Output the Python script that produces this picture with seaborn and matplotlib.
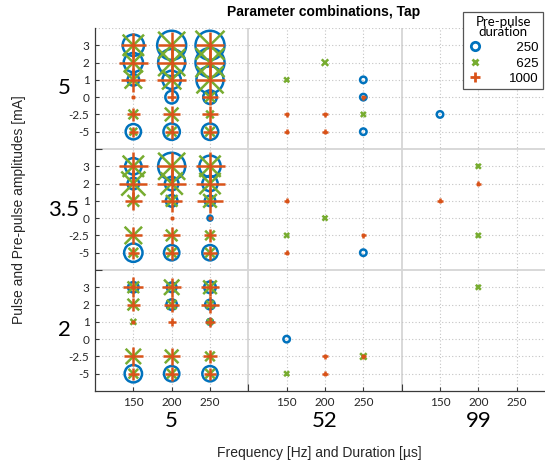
import numpy as np
import pandas as pd
import matplotlib
matplotlib.use("Agg")
import matplotlib.pyplot as plt
import matplotlib.transforms as mtransforms
from matplotlib.lines import Line2D
import seaborn as sns

# ---------------- data ----------------
DURATIONS = [5, 52, 99]              # pulse duration [µs]
FREQS = [150, 200, 250]              # frequency [Hz]
PULSES = [5, 3.5, 2]                 # pulse amplitude [mA]
PREPULSES = [3, 2, 1, 0, -2.5, -5]   # pre-pulse amplitude [mA]
PP_DURATIONS = [250, 625, 1000]      # pre-pulse duration

# counts at 5 µs duration; rows = pre-pulse (3..-5), cols = 150/200/250 Hz
n250_p5 = [[54, 100, 114], [44, 87, 100], [16, 40, 87], [0, 19, 22], [0, 0, 0], [28, 32, 32]]
n250_p35 = [[32, 87, 54], [16, 22, 28], [0, 16, 13], [0, 0, 3], [0, 0, 0], [40, 28, 28]]
n250_p2 = [[13, 11, 16], [0, 13, 11], [0, 0, 4], [0, 0, 0], [0, 0, 0], [36, 28, 28]]

n625_p5 = [[54, 87, 100], [44, 87, 100], [36, 44, 87], [0, 0, 12], [11, 22, 7], [7, 11, 11]]
n625_p35 = [[54, 87, 54], [69, 59, 54], [16, 16, 22], [0, 0, 0], [36, 16, 11], [11, 11, 11]]
n625_p2 = [[16, 28, 22], [16, 11, 7], [4, 0, 4], [0, 0, 0], [28, 22, 11], [11, 11, 11]]

n1000_p5 = [[75, 87, 87], [100, 107, 87], [69, 100, 100], [2, 9, 30], [22, 36, 32], [11, 22, 22]]
n1000_p35 = [[114, 114, 100], [93, 100, 100], [36, 54, 75], [0, 2, 2], [36, 32, 19], [16, 22, 22]]
n1000_p2 = [[49, 44, 36], [22, 28, 36], [2, 7, 11], [0, 0, 0], [40, 36, 22], [16, 22, 16]]

# sparse combinations at 52 and 99 µs
sp_dur = [52, 52, 52, 52, 52, 52, 52, 52, 52, 52, 52, 99,
          52, 52, 52, 52, 52, 52, 99, 99, 99, 99,
          52, 52, 52, 52, 52, 52, 99]
sp_freq = [150, 150, 150, 200, 200, 200, 250, 250, 250, 250, 250, 150,
           150, 150, 150, 200, 250, 250, 150, 200, 200, 200,
           150, 150, 200, 200, 250, 250, 200]
sp_pulse = [5] * 12 + [3.5] * 10 + [2] * 7
sp_pre = [1, -2.5, -5, 2, -2.5, -5, 1, 0, 0, -2.5, -5, -2.5,
          1, -2.5, -5, 0, -2.5, -5, 1, 3, 2, -2.5,
          0, -5, -2.5, -5, -2.5, -2.5, 3]
sp_ppd = [625, 1000, 1000, 625, 1000, 1000, 250, 250, 1000, 625, 250, 250,
          1000, 625, 1000, 625, 1000, 250, 1000, 625, 1000, 625,
          250, 625, 1000, 1000, 625, 1000, 625]
sp_n = [3, 3, 3, 5, 3, 3, 5, 5, 3, 3, 5, 5,
        3, 3, 3, 3, 3, 5, 3, 3, 3, 3,
        5, 3, 3, 3, 5, 3, 3]

# ---------------- long table ----------------
grids = {250: [n250_p5, n250_p35, n250_p2],
         625: [n625_p5, n625_p35, n625_p2],
         1000: [n1000_p5, n1000_p35, n1000_p2]}
rows = []
for ppd, mats in grids.items():
    for pi, mat in enumerate(mats):
        for ki, row in enumerate(mat):
            for fi, n in enumerate(row):
                if n > 0:
                    rows.append(dict(dur=5, freq=FREQS[fi], pulse=PULSES[pi],
                                     pre=PREPULSES[ki], ppd=ppd, n=n))
for d, f, p, pr, pp, n in zip(sp_dur, sp_freq, sp_pulse, sp_pre, sp_ppd, sp_n):
    rows.append(dict(dur=d, freq=f, pulse=p, pre=pr, ppd=pp, n=n))
df = pd.DataFrame(rows)
df["xpos"] = [4 * DURATIONS.index(d) + FREQS.index(f) + 1 for d, f in zip(df.dur, df.freq)]
df["ypos"] = [7 * PULSES.index(p) + PREPULSES.index(k) + 1 for p, k in zip(df.pulse, df.pre)]

# ---------------- figure ----------------
W, H = 545, 463
fig = plt.figure(figsize=(W / 100, H / 100), dpi=100)
L, R, T, B = 95, 555, 28, 391
ax = fig.add_axes([L / W, 1 - B / H, (R - L) / W, (B - T) / H])

BLUE, GREEN, ORANGE = "#0072BD", "#77AC30", "#D95319"
styles = {250: ("o", BLUE, 1.8), 625: ("x", GREEN, 1.8), 1000: ("+", ORANGE, 1.8)}
SMAX = (2.9 * 0.72) ** 2 * 100

for z, ppd in enumerate(PP_DURATIONS):
    m, c, lw = styles[ppd]
    sub = df[df.ppd == ppd]
    sns.scatterplot(data=sub, x="xpos", y="ypos", size="n", sizes=(0, SMAX),
                    size_norm=(0, 100), marker=m, color=c, legend=False,
                    ax=ax, zorder=3 + z)
    coll = ax.collections[-1]
    if m == "o":
        coll.set_facecolor("none")
    coll.set_edgecolor(c)
    coll.set_linewidth(lw)

ax.set_xlim(0, 12)
ax.set_ylim(21, 0)

xt = [4 * g + j + 1 for g in range(3) for j in range(3)]
ax.set_xticks(xt)
ax.set_xticklabels([str(FREQS[j]) for g in range(3) for j in range(3)])
yt = [7 * i + k + 1 for i in range(3) for k in range(6)]
ax.set_yticks(yt)
ax.set_yticklabels([("%g" % PREPULSES[k]) for i in range(3) for k in range(6)])
ax.set_xticks([4, 8], minor=True)
ax.set_yticks([7, 14], minor=True)

ax.grid(True, which="major", ls=(0, (1, 2)), color="#c4c4c4", lw=0.8)
ax.axhline(0.02, ls=(0, (1, 2)), color="#c4c4c4", lw=0.8)
for yv in (7, 14):
    ax.axhline(yv, color="#d6d6d6", lw=1.3, zorder=1)
for xv in (4, 8):
    ax.axvline(xv, color="#d6d6d6", lw=1.3, zorder=1)

for s in ("top", "right"):
    ax.spines[s].set_visible(False)
for s in ("left", "bottom"):
    ax.spines[s].set_color("#3a3a3a")
    ax.spines[s].set_linewidth(0.9)
ax.tick_params(which="both", direction="in", color="#3a3a3a", width=0.8)
ax.tick_params(which="major", length=3, labelsize=8.5, pad=4, labelcolor="#262626")
ax.tick_params(which="minor", length=5)
for t in ax.get_xticklabels() + ax.get_yticklabels():
    t.set_fontfamily(["Lato", "DejaVu Sans"])
ax.set_xlabel("")
ax.set_ylabel("")

# group labels
tx = mtransforms.blended_transform_factory(ax.transData, ax.transAxes)
for g, d in enumerate(DURATIONS):
    ax.text(4 * g + 2, -(421 - B) / (B - T), str(d), transform=tx, ha="center",
            va="center", fontsize=16, family=["Lato", "DejaVu Sans"])
ty = mtransforms.blended_transform_factory(ax.transAxes, ax.transData)
for i, p in enumerate(PULSES):
    ax.text((64 - L) / (R - L), 7 * i + 3.5, "%g" % p, transform=ty, ha="center",
            va="center", fontsize=16, family=["Lato", "DejaVu Sans"])

fig.text(324 / W, 1 - 12 / H, "Parameter combinations, Tap", ha="center",
         va="center", fontsize=10, fontweight="bold", family="Liberation Sans")
fig.text(319 / W, 1 - 453 / H, "Frequency [Hz] and Duration [µs]", ha="center",
         va="center", fontsize=10, family="Liberation Sans", color="#262626")
fig.text(19 / W, 1 - 210 / H, "Pulse and Pre-pulse amplitudes [mA]", ha="center",
         va="center", rotation=90, fontsize=10, family="Liberation Sans",
         color="#262626")

# legend
handles = [Line2D([], [], ls="none", marker="o", markerfacecolor="none",
                  markeredgecolor=BLUE, markeredgewidth=2, markersize=6),
           Line2D([], [], ls="none", marker="x", color=GREEN,
                  markeredgewidth=2, markersize=5),
           Line2D([], [], ls="none", marker="+", color=ORANGE,
                  markeredgewidth=2, markersize=7)]
labels = ["\u2007250", "\u2007625", "1000"]
leg = fig.legend(handles, labels, title="Pre-pulse\nduration", loc="upper right",
                 bbox_to_anchor=(543 / W, 1 - 12 / H), frameon=True,
                 fancybox=False, framealpha=1, edgecolor="#555555",
                 prop={"family": ["Liberation Sans", "DejaVu Sans"], "size": 9.5},
                 handlelength=1.2, handletextpad=2.0, borderpad=0.3,
                 labelspacing=0.25, borderaxespad=0)
leg.get_title().set_fontfamily(["Lato", "DejaVu Sans"])
leg.get_title().set_fontsize(9.5)
leg.get_title().set_multialignment("center")
leg.get_title().set_linespacing(0.85)
leg.get_frame().set_linewidth(0.9)

fig.savefig("out.png", dpi=100)
